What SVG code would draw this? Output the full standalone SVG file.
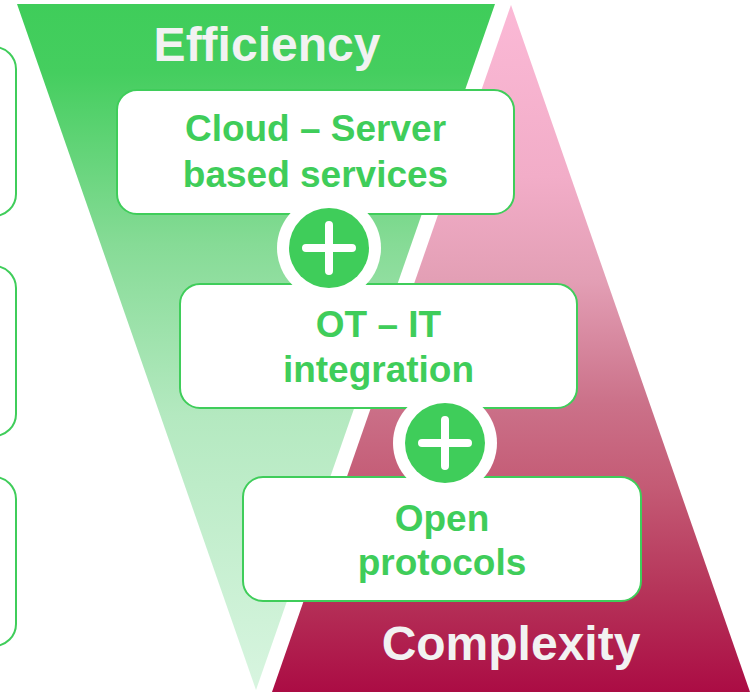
<svg xmlns="http://www.w3.org/2000/svg" width="755" height="692" viewBox="0 0 755 692">
<defs>
<linearGradient id="gGreen" x1="0" y1="4" x2="0" y2="690" gradientUnits="userSpaceOnUse">
<stop offset="0" stop-color="#3fcd5a"/>
<stop offset="0.1" stop-color="#45ce5f"/>
<stop offset="0.35" stop-color="#86db96"/>
<stop offset="0.6" stop-color="#b4e9c0"/>
<stop offset="1" stop-color="#d8f5e0"/>
</linearGradient>
<linearGradient id="gPink" x1="0" y1="5" x2="0" y2="692" gradientUnits="userSpaceOnUse">
<stop offset="0" stop-color="#fbb9d6"/>
<stop offset="0.25" stop-color="#f2adc8"/>
<stop offset="0.4" stop-color="#e39fb5"/>
<stop offset="0.58" stop-color="#cb7189"/>
<stop offset="0.7" stop-color="#c45b75"/>
<stop offset="0.85" stop-color="#b6355a"/>
<stop offset="1" stop-color="#ab0c44"/>
</linearGradient>
</defs>
<style>
.box{fill:#ffffff;stroke:#3fcd5a;stroke-width:2}
.lbl{font-family:"Liberation Sans",Arial,sans-serif;font-weight:bold;font-size:37px;fill:#3fcd5a;text-anchor:middle}
.big{font-family:"Liberation Sans",Arial,sans-serif;font-weight:bold;font-size:48px;fill:#f2f2f2;text-anchor:middle}
.ring{fill:#ffffff}
.dot{fill:#3fcd5a}
.plus{stroke:#ffffff;stroke-width:8;stroke-linecap:round;fill:none}
</style>
<g id="backgrounds">
<polygon points="17,4 495,4 256,690" fill="url(#gGreen)"/>
<polygon points="511,5 750,692 272,692" fill="url(#gPink)"/>
<text class="big" x="267" y="61">Efficiency</text>
<text class="big" x="511" y="660">Complexity</text>
</g>
<g id="left-boxes">
<rect class="box" x="-300" y="47" width="316" height="169" rx="22"/>
<rect class="box" x="-300" y="266" width="316" height="170" rx="22"/>
<rect class="box" x="-300" y="477" width="316" height="169" rx="22"/>
</g>
<g id="node-cloud">
<rect class="box" x="117" y="90" width="397" height="124" rx="20"/>
<text class="lbl" x="315.5" y="141">Cloud – Server</text>
<text class="lbl" x="315.5" y="187">based services</text>
</g>
<g id="node-otit">
<rect class="box" x="180" y="284" width="397" height="124" rx="20"/>
<text class="lbl" x="378.5" y="337">OT – IT</text>
<text class="lbl" x="378.5" y="382">integration</text>
</g>
<g id="node-open">
<rect class="box" x="243" y="477" width="398" height="124" rx="20"/>
<text class="lbl" x="442" y="531">Open</text>
<text class="lbl" x="442" y="575">protocols</text>
</g>
<g id="connectors">
<g id="plus1">
<circle class="ring" cx="329" cy="248" r="52"/>
<circle class="dot" cx="329" cy="248" r="40"/>
<path class="plus" d="M306,248H352M329,225V271"/>
</g>
<g id="plus2">
<circle class="ring" cx="445" cy="443" r="52"/>
<circle class="dot" cx="445" cy="443" r="40"/>
<path class="plus" d="M422,443H468M445,420V466"/>
</g>
</g>
</svg>
